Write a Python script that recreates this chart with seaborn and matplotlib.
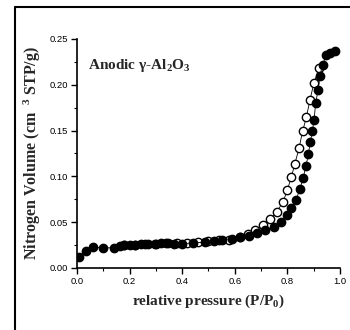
import matplotlib
matplotlib.use("Agg")
import matplotlib.pyplot as plt
import seaborn as sns
import pandas as pd
from matplotlib.lines import Line2D
from matplotlib.ticker import MultipleLocator, FormatStrFormatter

# Adsorption branch (filled circles)
ads_p = [0.009, 0.034, 0.062, 0.10, 0.14, 0.163, 0.18, 0.20, 0.22, 0.245, 0.27, 0.295,
         0.32, 0.345, 0.37, 0.40, 0.44, 0.487, 0.52, 0.55, 0.588, 0.62, 0.655, 0.683,
         0.715, 0.75, 0.778, 0.80, 0.816, 0.833, 0.848, 0.86, 0.871, 0.88, 0.888, 0.895,
         0.902, 0.908, 0.917, 0.924, 0.934, 0.949, 0.962, 0.981]
ads_v = [0.0123, 0.019, 0.0226, 0.022, 0.022, 0.024, 0.025, 0.025, 0.025, 0.026, 0.026, 0.026,
         0.027, 0.027, 0.026, 0.026, 0.0277, 0.028, 0.029, 0.0306, 0.032, 0.0335, 0.035, 0.038,
         0.0415, 0.045, 0.0506, 0.058, 0.065, 0.074, 0.086, 0.098, 0.111, 0.124, 0.138, 0.149,
         0.162, 0.18, 0.194, 0.209, 0.222, 0.2325, 0.235, 0.237]

# Desorption branch (open circles)
des_p = [0.921, 0.901, 0.886, 0.873, 0.858, 0.845, 0.829, 0.816, 0.80, 0.784, 0.759, 0.734,
         0.708, 0.677, 0.65, 0.62, 0.58, 0.54, 0.50, 0.46, 0.42, 0.38, 0.34, 0.30, 0.26,
         0.22, 0.18]
des_v = [0.218, 0.2016, 0.183, 0.165, 0.149, 0.131, 0.114, 0.0997, 0.085, 0.072, 0.061, 0.053,
         0.047, 0.0415, 0.037, 0.034, 0.031, 0.030, 0.029, 0.028, 0.027, 0.027, 0.027, 0.026,
         0.026, 0.025, 0.025]

x_ticks = [0.0, 0.2, 0.4, 0.6, 0.8, 1.0]
y_ticks = [0.00, 0.05, 0.10, 0.15, 0.20, 0.25]

sns.set_theme(style="ticks")
plt.rcParams["font.family"] = ["Liberation Sans", "DejaVu Sans"]
plt.rcParams["mathtext.default"] = "regular"

fig = plt.figure(figsize=(3.5, 3.3), dpi=100)
ax = fig.add_axes([0.22, 0.188, 0.751, 0.694])

ads = pd.DataFrame({"p": ads_p, "v": ads_v})
des = pd.DataFrame({"p": des_p, "v": des_v})

sns.lineplot(data=des, x="p", y="v", sort=False, estimator=None, ax=ax,
             color="black", linewidth=0.6, marker="o", markersize=6,
             markerfacecolor="white", markeredgecolor="black", markeredgewidth=1.0)
sns.lineplot(data=ads, x="p", y="v", sort=False, estimator=None, ax=ax,
             color="black", linewidth=0.6, marker="o", markersize=6,
             markerfacecolor="black", markeredgecolor="black", markeredgewidth=1.0)

ax.set_xlim(0.0, 1.0)
ax.set_ylim(0.0, 0.25)
ax.set_xticks(x_ticks)
ax.set_yticks(y_ticks)
ax.xaxis.set_minor_locator(MultipleLocator(0.1))
ax.yaxis.set_minor_locator(MultipleLocator(0.025))
ax.xaxis.set_major_formatter(FormatStrFormatter("%.1f"))
ax.yaxis.set_major_formatter(FormatStrFormatter("%.2f"))
ax.tick_params(axis="both", which="major", direction="out", length=4.5, width=1,
               labelsize=6.8, colors="black", pad=2)
ax.tick_params(axis="both", which="minor", direction="out", length=2.5, width=0.8,
               colors="black")

for s in ["top", "right"]:
    ax.spines[s].set_visible(False)
for s in ["left", "bottom"]:
    ax.spines[s].set_color("black")
    ax.spines[s].set_linewidth(1.2)

serif = ["Liberation Serif", "DejaVu Serif"]
ax.set_xlabel("relative pressure (P/P$_0$)", family=serif, fontweight="bold",
              fontsize=11, labelpad=5)
ax.set_ylabel("Nitrogen Volume (cm  $^{3}$ STP/g)", family=serif, fontweight="bold",
              fontsize=11.5, labelpad=5)
ax.text(0.04, 0.886, "Anodic γ-Al$_2$O$_3$", transform=ax.transAxes, family=serif,
        fontweight="bold", fontsize=11, ha="left", va="center")

# outer frame lines (left and top)
fig.add_artist(Line2D([15 / 350, 15 / 350], [0, 1 - 6.5 / 330], transform=fig.transFigure,
                      color="black", linewidth=1.5))
fig.add_artist(Line2D([15 / 350, 1], [1 - 6.5 / 330, 1 - 6.5 / 330], transform=fig.transFigure,
                      color="black", linewidth=1.5))

fig.savefig("out.png", dpi=100)
